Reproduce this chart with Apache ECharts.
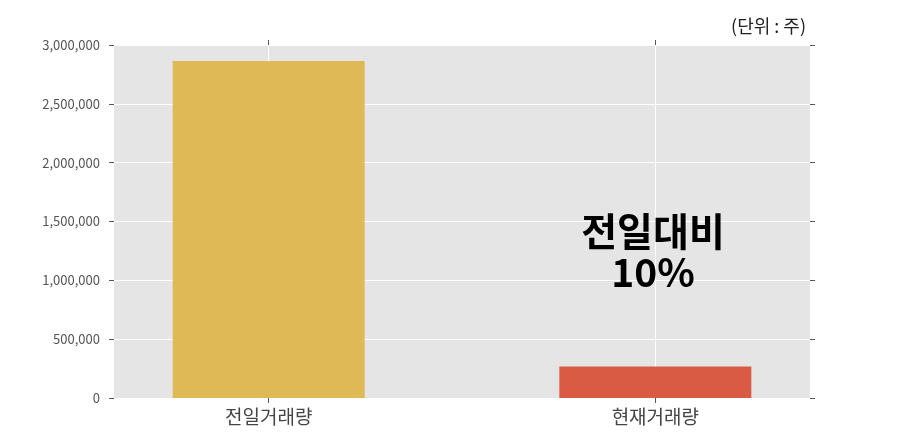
<!DOCTYPE html>
<html><head><meta charset="utf-8">
<script src="https://cdn.jsdelivr.net/npm/echarts@6/dist/echarts.min.js"></script>
<style>html,body{margin:0;padding:0;background:#fff}#c{width:900px;height:443px}</style>
</head><body><div id="c"></div>
<script>
const categories = ['전일거래량', '현재거래량'];
const volumes = [2865000, 268000];
const barColors = ['#e0b957', '#d95b43'];
const unitText = '(단위 : 주)';
const noteText = '전일대비\n10%';

const FONT = '"Noto Sans CJK KR", "Noto Sans", sans-serif';
const chart = echarts.init(document.getElementById('c'), null, {renderer: 'canvas'});
const catPos = categories.map((c, i) => i);
const tickStyle = {show: true, length: 5, inside: false, lineStyle: {color: '#555', width: 1}};

chart.setOption({
  animation: false,
  backgroundColor: '#fff',
  grid: {left: 114, right: 90, top: 45, bottom: 45, show: true, backgroundColor: '#e5e5e5', borderWidth: 0},
  xAxis: [{
    type: 'value', min: -0.4, max: 1.4, position: 'bottom',
    axisLine: {show: false, onZero: false},
    axisTick: Object.assign({customValues: catPos}, tickStyle),
    axisLabel: {customValues: catPos, formatter: v => categories[Math.round(v)], color: '#444', fontSize: 19, fontFamily: FONT, margin: 9},
    splitLine: {show: false}
  }, {
    type: 'value', min: -0.4, max: 1.4, position: 'top',
    axisLine: {show: false, onZero: false},
    axisTick: Object.assign({customValues: catPos}, tickStyle),
    axisLabel: {show: false, customValues: catPos},
    splitLine: {show: false}
  }],
  yAxis: [{
    type: 'value', min: 0, max: 3000000, interval: 500000, position: 'left',
    axisLine: {show: false, onZero: false},
    axisTick: tickStyle,
    axisLabel: {color: '#555', fontSize: 13, fontFamily: FONT, margin: 14,
      formatter: v => v.toLocaleString('en-US')},
    splitLine: {show: true, lineStyle: {color: '#fff', width: 1}}
  }, {
    type: 'value', min: 0, max: 3000000, interval: 500000, position: 'right',
    axisLine: {show: false, onZero: false},
    axisTick: tickStyle,
    axisLabel: {show: false},
    splitLine: {show: false}
  }],
  series: [{
    type: 'bar',
    xAxisIndex: 0, yAxisIndex: 0,
    barWidth: 192,
    data: volumes.map((v, i) => ({value: [catPos[i], v], itemStyle: {color: barColors[i]}})),
    markLine: {
      silent: true, symbol: 'none', label: {show: false}, z: 1,
      lineStyle: {color: '#fff', width: 1, type: 'solid'},
      data: catPos.map(p => ({xAxis: p}))
    },
    z: 2
  }],
  graphic: [{
    type: 'text', right: 94, top: 17,
    style: {text: unitText, font: '18px ' + FONT, fill: '#222'}
  }, {
    type: 'text', x: 653, y: 252, z: 100,
    style: {text: noteText, font: 'bold 39px ' + FONT, fill: '#000', align: 'center', verticalAlign: 'middle', lineHeight: 41}
  }]
});
</script></body></html>
